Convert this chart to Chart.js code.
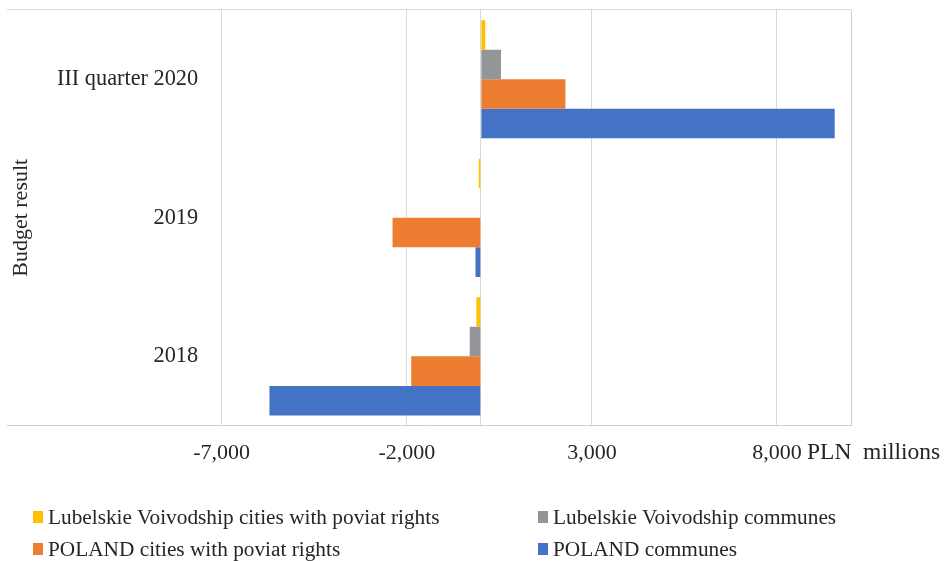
<!DOCTYPE html>
<html>
<head>
<meta charset="utf-8">
<script src="https://cdn.jsdelivr.net/npm/chart.js@4/dist/chart.umd.min.js"></script>
<style>
  html, body { margin: 0; padding: 0; background: #ffffff; }
  #wrap { position: relative; width: 951px; height: 561px; background: #ffffff; }
  #chart { position: absolute; left: 0; top: 0; }
  #legend {
    position: absolute; left: 33px; top: 501px;
    display: grid; grid-template-columns: 505px auto; grid-auto-rows: 32px;
    font-family: "Liberation Serif", "Times New Roman", serif; font-size: 21.3px; color: #262626;
  }
  #legend .item { display: flex; align-items: center; white-space: nowrap; }
  #legend .box { display: inline-block; width: 10px; height: 12px; margin-right: 5px; }
</style>
</head>
<body>
<div id="wrap">
  <canvas id="chart" width="951" height="561"></canvas>
  <div id="legend"></div>
</div>
<script>
// Budget result by unit type, PLN millions
const categories = ['III quarter 2020', '2019', '2018'];
const lubelskieCities = [120, -55, -120];
const lubelskieCommunes = [545, 0, -300];
const polandCities = [2285, -2385, -1880];
const polandCommunes = [9560, -145, -5710];

const seriesNames = [
  'Lubelskie Voivodship cities with poviat rights',
  'Lubelskie Voivodship communes',
  'POLAND cities with poviat rights',
  'POLAND communes'
];
const seriesColors = ['#FFC000', '#939599', '#ED7D31', '#4472C4'];

const tickValues = [-7000, -2000, 3000, 8000];
const axisLines = [0, 10000];   // zero line and right edge of the plot
const unitLabel = 'PLN  millions';
const axisTitle = 'Budget result';

const textColor = '#262626';
const gridColor = '#d9d9d9';
const serif = '"Liberation Serif", "Times New Roman", serif';

const seriesValues = [lubelskieCities, lubelskieCommunes, polandCities, polandCommunes];

// Unit caption written just after the last value label on the x axis
const unitCaption = {
  id: 'unitCaption',
  afterDraw(chart) {
    const x = chart.scales.x;
    const ctx = chart.ctx;
    ctx.save();
    ctx.font = '23.5px ' + serif;
    ctx.fillStyle = textColor;
    ctx.textAlign = 'left';
    ctx.textBaseline = 'middle';
    const px = x.getPixelForValue(tickValues[tickValues.length - 1]) + 30;
    const py = x.top + x.options.ticks.padding + 13;
    ctx.fillText(unitLabel, px, py);
    ctx.restore();
  }
};

const chart = new Chart(document.getElementById('chart'), {
  type: 'bar',
  data: {
    labels: categories,
    datasets: seriesValues.map((vals, i) => ({
      label: seriesNames[i],
      data: vals,
      backgroundColor: seriesColors[i],
      borderWidth: 0,
      categoryPercentage: 0.853,
      barPercentage: 1.0
    }))
  },
  options: {
    indexAxis: 'y',
    responsive: false,
    animation: false,
    layout: { padding: { left: 0, top: 10, right: 100, bottom: 81 } },
    plugins: {
      legend: { display: false },
      tooltip: { enabled: false }
    },
    scales: {
      x: {
        type: 'linear',
        min: -12800,
        max: 10000,
        afterBuildTicks(scale) {
          scale.ticks = tickValues.concat(axisLines).sort((a, b) => a - b).map(v => ({ value: v }));
        },
        ticks: {
          autoSkip: false,
          padding: 14,
          color: textColor,
          font: { family: serif, size: 22 },
          callback: v => tickValues.includes(v) ? v.toLocaleString('en-US') : ''
        },
        grid: {
          drawTicks: false,
          color: ctx => (ctx.tick && ctx.tick.value === axisLines[1]) ? '#cccccc' : gridColor,
          lineWidth: 1
        },
        border: { display: true, color: '#cfcfcf', width: 1 }
      },
      y: {
        type: 'category',
        afterFit(scale) {
          scale.width = 7;
          scale.paddingTop = 0;
          scale.paddingBottom = 0;
        },
        ticks: {
          mirror: true,
          crossAlign: 'far',
          padding: 50,
          color: textColor,
          font: { family: serif, size: 22.3 }
        },
        grid: {
          offset: true,
          drawTicks: false,
          color: ctx => (ctx.type === 'tick' && ctx.index === 0) ? gridColor : 'rgba(0,0,0,0)'
        },
        border: { display: false },
        title: {
          display: true,
          text: axisTitle,
          color: textColor,
          font: { family: serif, size: 22 },
          padding: { top: 8, bottom: 0 }
        }
      }
    }
  },
  plugins: [unitCaption]
});

// Legend in two columns, built from the chart's datasets
const legendEl = document.getElementById('legend');
chart.data.datasets.forEach(ds => {
  const item = document.createElement('div');
  item.className = 'item';
  const box = document.createElement('span');
  box.className = 'box';
  box.style.background = ds.backgroundColor;
  const txt = document.createElement('span');
  txt.textContent = ds.label;
  item.appendChild(box);
  item.appendChild(txt);
  legendEl.appendChild(item);
});
</script>
</body>
</html>
